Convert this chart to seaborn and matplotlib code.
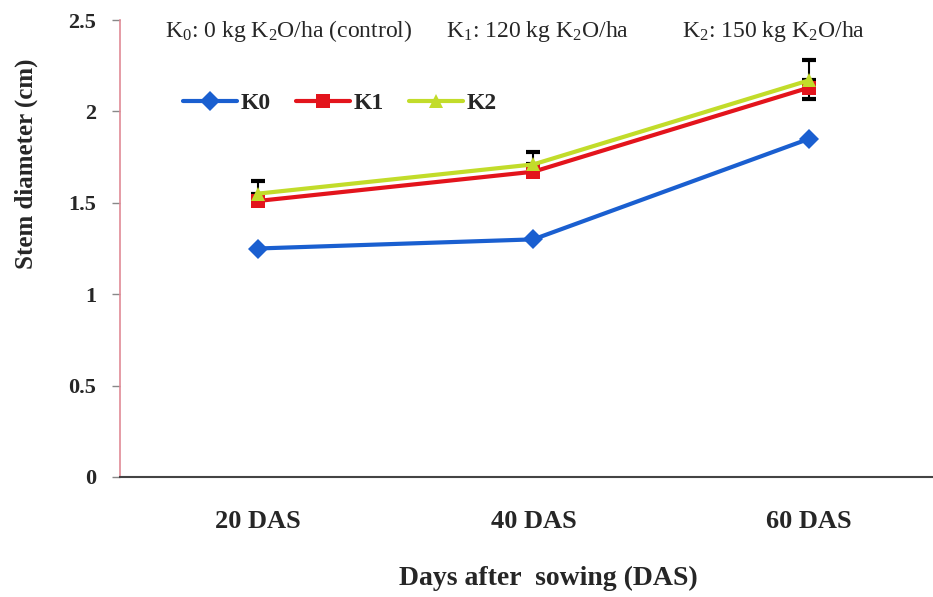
import numpy as np
import pandas as pd
import matplotlib
matplotlib.use("Agg")
import matplotlib.pyplot as plt
from matplotlib.ticker import FuncFormatter, FixedLocator
import seaborn as sns

categories = ["20 DAS", "40 DAS", "60 DAS"]
k0 = [1.25, 1.30, 1.85]
k1 = [1.51, 1.67, 2.13]
k2 = [1.55, 1.71, 2.17]
k2_err_up = [0.07, 0.07, 0.11]
k1_err_down = [0.0, 0.0, 0.06]
series_names = ["K0", "K1", "K2"]
yticks = [0, 0.5, 1, 1.5, 2, 2.5]

sns.set_theme(style="white")
plt.rcParams["font.family"] = ["Liberation Serif", "DejaVu Serif"]
plt.rcParams["mathtext.fontset"] = "custom"
plt.rcParams["mathtext.rm"] = "Liberation Serif"
plt.rcParams["mathtext.it"] = "Liberation Serif:italic"

df = pd.DataFrame({
    "day": categories * 3,
    "value": k0 + k1 + k2,
    "series": [s for s in series_names for _ in categories],
})

colors = {"K0": "#1a5fd0", "K1": "#e3141c", "K2": "#c2dc2a"}
markers = {"K0": "D", "K1": "s", "K2": "^"}

W, H = 933, 597
L, R, T, B = 120, 933, 20, 477
fig = plt.figure(figsize=(W / 100, H / 100), dpi=100)
ax = fig.add_axes([L / W, 1 - B / H, (R - L) / W, (B - T) / H])

sns.lineplot(data=df, x="day", y="value", hue="series", style="series",
             palette=colors, markers=markers, dashes=False, linewidth=3,
             markersize=10, markeredgewidth=0, ax=ax, sort=False)

xpos = np.arange(len(categories))
ax.errorbar(xpos, k2, yerr=[np.zeros(len(k2)), k2_err_up], fmt="none",
            ecolor="black", elinewidth=1.5, capsize=5, capthick=3, zorder=1)
ax.errorbar(xpos, k1, yerr=[k1_err_down, np.zeros(len(k1))], fmt="none",
            ecolor="black", elinewidth=1.5, capsize=5, capthick=3, zorder=1)

ax.set_xlim(-0.5, (R - L) / 275.6 - 0.5)
ax.set_ylim(0, 2.5)
ax.set_yticks(yticks)
ax.yaxis.set_major_formatter(FuncFormatter(lambda v, p: f"{v:g}"))
ax.set_xticks(xpos)
ax.set_xticklabels(categories, fontsize=19, fontweight="bold")
ax.xaxis.set_minor_locator(FixedLocator(np.arange(-0.5, 3.0, 1.0)))
ax.tick_params(axis="x", which="major", length=0, pad=24)
ax.tick_params(axis="x", which="minor", length=6, width=1, color="#555555", direction="out")
ax.tick_params(axis="y", length=6, width=1, color="#888888", direction="out",
               labelsize=16, left=True, pad=11)
for lab in ax.get_yticklabels():
    lab.set_fontweight("bold")

ax.set_xlabel("Days after  sowing (DAS)", fontsize=20, fontweight="bold")
ax.set_ylabel("Stem diameter (cm)", fontsize=18, fontweight="bold")
tx = lambda px: (px - L) / (R - L)
ty = lambda py: (B - py) / (B - T)
ax.xaxis.set_label_coords(tx(548), ty(578))
ax.xaxis.label.set_va("center")
ax.yaxis.set_label_coords(tx(26), ty(164))
ax.yaxis.label.set_va("center")

for s in ["top", "right"]:
    ax.spines[s].set_visible(False)
ax.spines["left"].set_color("#e08a96")
ax.spines["left"].set_linewidth(1.2)
ax.spines["bottom"].set_color("#444444")
ax.spines["bottom"].set_linewidth(1.5)

leg = ax.legend(loc="center left", bbox_to_anchor=(tx(183), ty(103)), ncol=3, frameon=False,
                prop={"size": 17, "weight": "bold"}, handlelength=2.3, columnspacing=1.05,
                handletextpad=0.15, borderpad=0, borderaxespad=0)

ax.text(tx(165), ty(31), r"K$_0$: 0 kg K$_2$O/ha (control)", transform=ax.transAxes,
        fontsize=17, va="center", ha="left")
ax.text(tx(446), ty(31), r"K$_1$: 120 kg K$_2$O/ha", transform=ax.transAxes,
        fontsize=17, va="center", ha="left")
ax.text(tx(682), ty(31), r"K$_2$: 150 kg K$_2$O/ha", transform=ax.transAxes,
        fontsize=17, va="center", ha="left")

fig.savefig("out.png", dpi=100)
